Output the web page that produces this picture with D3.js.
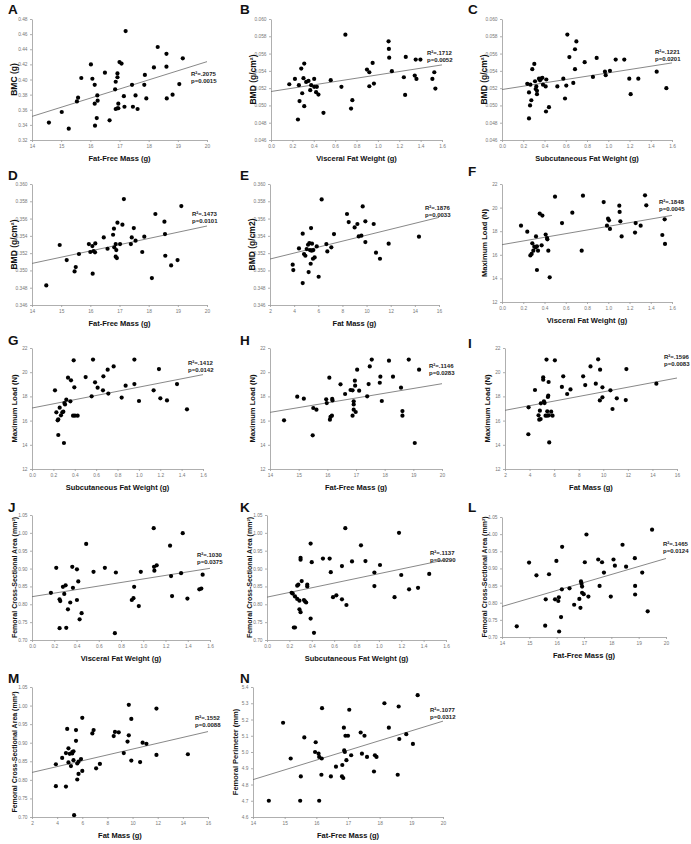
<!DOCTYPE html>
<html><head><meta charset="utf-8">
<script src="https://cdn.jsdelivr.net/npm/d3@7"></script>
<style>body{margin:0;background:#fff}svg{display:block}</style>
</head><body>
<svg id="c" width="691" height="844"></svg>
<script>
// ---------- tick values ----------
const ticksFFM=[14,15,16,17,18,19,20];
const ticksFatW=[0,0.2,0.4,0.6,0.8,1.0,1.2,1.4,1.6];
const ticksFM=[2,4,6,8,10,12,14,16];
const ticksBMC=[0.32,0.34,0.36,0.38,0.40,0.42,0.44,0.46,0.48];
const ticksBMDs=[0.046,0.048,0.050,0.052,0.054,0.056,0.058,0.060];
const ticksBMDf=[0.346,0.348,0.350,0.352,0.354,0.356,0.358,0.360];
const ticksLoad=[12,14,16,18,20,22];
const ticksCSA=[0.70,0.75,0.80,0.85,0.90,0.95,1.00,1.05];
const ticksPerim=[4.6,4.7,4.8,4.9,5.0,5.1,5.2,5.3,5.4];

// ---------- data: [x, y] ----------
const ptsA=[[14.58,0.343],[15.02,0.357],[15.26,0.335],[15.54,0.371],[15.58,0.376],[15.69,0.402],[16.02,0.420],[16.07,0.401],[16.15,0.393],[16.15,0.368],[16.16,0.339],[16.22,0.349],[16.24,0.379],[16.25,0.372],[16.50,0.409],[16.66,0.346],[16.85,0.387],[16.87,0.397],[16.93,0.408],[16.93,0.403],[16.87,0.361],[16.93,0.362],[16.96,0.362],[16.96,0.368],[17.00,0.423],[17.07,0.421],[17.15,0.378],[17.17,0.364],[17.21,0.464],[17.43,0.393],[17.46,0.364],[17.55,0.379],[17.62,0.361],[17.85,0.393],[17.87,0.406],[17.92,0.375],[18.18,0.416],[18.31,0.443],[18.61,0.434],[18.61,0.417],[18.62,0.375],[18.82,0.380],[19.05,0.394],[19.17,0.428]];
const ptsB=[[0.171,0.05245],[0.224,0.05307],[0.261,0.05234],[0.267,0.0505],[0.252,0.04837],[0.283,0.05426],[0.292,0.05141],[0.304,0.05315],[0.311,0.05484],[0.311,0.04991],[0.329,0.05272],[0.351,0.05284],[0.367,0.05176],[0.376,0.05234],[0.404,0.05307],[0.404,0.05215],[0.422,0.05153],[0.429,0.05215],[0.444,0.05126],[0.491,0.04914],[0.559,0.05292],[0.659,0.05215],[0.696,0.05819],[0.749,0.04964],[0.761,0.05061],[0.898,0.05415],[0.920,0.05384],[0.920,0.05222],[0.951,0.05492],[0.963,0.05253],[1.100,0.05742],[1.103,0.05654],[1.106,0.05553],[1.131,0.05396],[1.243,0.05326],[1.255,0.05122],[1.261,0.05561],[1.345,0.05345],[1.361,0.05307],[1.354,0.0553],[1.398,0.0553],[1.510,0.05307],[1.528,0.05384],[1.538,0.05195]];
const ptsC=[[0.238,0.0525],[0.254,0.0515],[0.267,0.0524],[0.264,0.0500],[0.254,0.0485],[0.276,0.0506],[0.285,0.0542],[0.304,0.0548],[0.311,0.0528],[0.317,0.0519],[0.323,0.0522],[0.329,0.0517],[0.329,0.0513],[0.348,0.0531],[0.358,0.0529],[0.367,0.0531],[0.380,0.0532],[0.386,0.0524],[0.411,0.0522],[0.417,0.0530],[0.414,0.0493],[0.442,0.0498],[0.521,0.0522],[0.577,0.0531],[0.593,0.0508],[0.605,0.0523],[0.615,0.0582],[0.634,0.0556],[0.671,0.0526],[0.687,0.0565],[0.687,0.0542],[0.700,0.0574],[0.778,0.0550],[0.856,0.0533],[0.891,0.0555],[0.969,0.0539],[0.976,0.0535],[1.016,0.0540],[1.070,0.0553],[1.151,0.0553],[1.198,0.0531],[1.211,0.0513],[1.283,0.0531],[1.456,0.0539],[1.547,0.0520]];
const ptsD=[[14.49,0.34827],[14.95,0.35294],[15.19,0.3512],[15.46,0.34989],[15.50,0.35039],[15.61,0.3519],[15.95,0.35305],[16.0,0.35213],[16.07,0.35282],[16.08,0.34962],[16.11,0.35224],[16.17,0.35313],[16.16,0.35209],[16.46,0.35382],[16.59,0.35251],[16.78,0.35413],[16.81,0.35483],[16.82,0.35267],[16.87,0.35305],[16.87,0.35159],[16.91,0.35143],[16.89,0.35236],[16.93,0.35552],[17.02,0.35305],[17.10,0.35529],[17.15,0.35826],[17.39,0.35305],[17.42,0.35382],[17.49,0.3549],[17.55,0.35344],[17.78,0.35213],[17.85,0.3539],[18.11,0.34911],[18.23,0.35653],[18.54,0.35564],[18.56,0.35421],[18.57,0.3517],[18.77,0.35058],[18.99,0.3512],[19.12,0.35745]];
const ptsE=[[3.88,0.35066],[3.93,0.35004],[4.40,0.35255],[4.71,0.35425],[4.71,0.34854],[4.82,0.35189],[4.93,0.3517],[5.04,0.35247],[5.15,0.35297],[5.20,0.34981],[5.26,0.35317],[5.31,0.35236],[5.37,0.35077],[5.40,0.3549],[5.45,0.35228],[5.48,0.35309],[5.56,0.35135],[5.59,0.35236],[5.70,0.35151],[5.87,0.35278],[6.03,0.34927],[6.28,0.35822],[6.67,0.35305],[6.75,0.3522],[7.08,0.35267],[7.30,0.35421],[8.38,0.35653],[8.52,0.3556],[9.01,0.35498],[9.24,0.35537],[9.35,0.35394],[9.57,0.35402],[9.68,0.35741],[9.90,0.35328],[9.90,0.35568],[10.59,0.35537],[10.78,0.35205],[11.11,0.35135],[11.83,0.35309],[14.34,0.3539]];
const ptsF=[[0.179,18.47],[0.238,17.96],[0.267,15.95],[0.279,16.07],[0.285,16.97],[0.295,16.35],[0.304,16.69],[0.317,16.63],[0.320,17.56],[0.329,16.72],[0.329,14.71],[0.339,16.35],[0.355,19.49],[0.380,19.32],[0.373,16.80],[0.411,17.71],[0.424,17.42],[0.427,17.31],[0.436,16.35],[0.449,14.09],[0.499,20.93],[0.565,18.69],[0.662,19.57],[0.750,16.35],[0.762,21.01],[0.957,20.47],[0.998,19.06],[1.007,18.92],[0.988,18.47],[1.016,18.19],[1.104,20.16],[1.107,19.63],[1.114,18.84],[1.126,17.56],[1.252,17.88],[1.258,18.69],[1.305,18.47],[1.346,21.04],[1.358,20.19],[1.509,17.68],[1.531,19.01],[1.534,16.92]];
const ptsG=[[0.215,18.50],[0.228,16.68],[0.240,16.02],[0.246,16.10],[0.246,14.81],[0.259,17.07],[0.271,16.44],[0.284,16.68],[0.293,16.74],[0.299,14.15],[0.303,17.45],[0.309,17.34],[0.321,17.73],[0.337,19.55],[0.359,17.59],[0.365,19.33],[0.384,16.41],[0.390,20.98],[0.396,18.75],[0.402,16.41],[0.427,16.41],[0.502,19.60],[0.558,18.01],[0.571,21.04],[0.590,19.16],[0.614,18.72],[0.664,18.50],[0.668,19.66],[0.708,20.21],[0.714,18.23],[0.764,20.48],[0.839,17.90],[0.876,18.89],[0.958,21.04],[0.958,19.02],[1.001,17.62],[1.138,18.50],[1.188,20.26],[1.201,17.84],[1.263,17.67],[1.357,19.02],[1.450,16.93]];
const ptsH=[[14.49,16.02],[14.95,17.98],[15.18,17.81],[15.49,14.78],[15.51,17.04],[15.62,16.90],[15.96,17.76],[15.98,17.45],[16.07,19.55],[16.09,16.08],[16.11,16.30],[16.16,16.41],[16.17,17.79],[16.18,17.67],[16.46,19.00],[16.62,18.20],[16.81,18.53],[16.88,16.41],[16.88,18.50],[16.92,16.90],[16.92,17.59],[16.92,17.34],[16.96,19.30],[16.97,18.89],[16.99,16.71],[17.04,20.21],[17.11,18.47],[17.39,18.01],[17.44,19.02],[17.48,20.48],[17.55,21.04],[17.83,19.13],[17.85,19.63],[17.90,17.62],[18.15,20.95],[18.29,19.63],[18.57,18.72],[18.62,16.79],[18.62,16.41],[18.84,21.04],[19.05,14.15],[19.20,20.21]];
const ptsI=[[3.90,14.87],[3.92,17.10],[4.44,18.53],[4.73,16.44],[4.79,16.08],[4.84,16.82],[4.90,16.13],[4.92,17.43],[5.11,19.58],[5.11,19.38],[5.17,17.59],[5.22,17.45],[5.30,16.41],[5.38,21.04],[5.44,16.77],[5.44,16.41],[5.49,17.95],[5.52,18.06],[5.55,19.19],[5.57,16.44],[5.60,14.20],[5.76,16.74],[5.87,16.41],[6.06,20.98],[6.63,18.78],[6.74,19.66],[7.06,18.20],[7.33,18.58],[8.36,19.66],[8.53,18.94],[8.96,20.48],[9.39,19.05],[9.58,21.06],[9.72,17.67],[9.74,20.21],[9.93,18.75],[9.93,17.92],[10.58,18.50],[10.75,16.96],[11.10,17.84],[11.83,17.70],[11.88,20.26],[14.32,19.05]];
const ptsJ=[[0.170,0.832],[0.218,0.902],[0.248,0.814],[0.254,0.809],[0.248,0.733],[0.278,0.849],[0.290,0.829],[0.302,0.853],[0.308,0.734],[0.323,0.786],[0.344,0.805],[0.362,0.905],[0.368,0.846],[0.404,0.898],[0.404,0.812],[0.416,0.864],[0.428,0.758],[0.446,0.775],[0.487,0.969],[0.553,0.891],[0.655,0.902],[0.745,0.719],[0.754,0.889],[0.897,0.812],[0.912,0.817],[0.918,0.849],[0.960,0.795],[0.978,0.891],[1.094,1.013],[1.097,0.905],[1.100,0.894],[1.121,0.909],[1.241,0.964],[1.250,0.879],[1.259,0.823],[1.340,0.887],[1.355,0.999],[1.397,0.816],[1.504,0.842],[1.522,0.844],[1.534,0.883]];
const ptsK=[[0.22,0.832],[0.23,0.830],[0.25,0.822],[0.24,0.735],[0.25,0.735],[0.27,0.815],[0.27,0.852],[0.28,0.855],[0.29,0.810],[0.29,0.786],[0.30,0.930],[0.30,0.925],[0.30,0.778],[0.31,0.865],[0.33,0.812],[0.34,0.808],[0.35,0.805],[0.36,0.855],[0.36,0.850],[0.39,0.970],[0.40,0.918],[0.39,0.760],[0.42,0.720],[0.50,0.928],[0.56,0.928],[0.57,0.890],[0.59,0.820],[0.62,0.825],[0.67,0.814],[0.67,0.907],[0.70,1.013],[0.71,0.798],[0.76,0.920],[0.84,0.965],[0.88,0.921],[0.96,0.889],[0.96,0.851],[1.01,0.910],[1.14,0.820],[1.18,1.000],[1.20,0.882],[1.27,0.842],[1.35,0.846],[1.45,0.885]];
const ptsL=[[14.54,0.731],[14.99,0.917],[15.26,0.880],[15.58,0.733],[15.60,0.810],[15.72,0.883],[15.94,0.810],[15.99,0.922],[16.06,0.805],[16.08,0.816],[16.09,0.716],[16.16,0.758],[16.19,0.839],[16.20,0.963],[16.47,0.842],[16.64,0.794],[16.83,0.811],[16.87,0.785],[16.89,0.862],[16.91,0.855],[16.93,0.847],[16.93,0.829],[16.99,0.825],[17.03,0.918],[17.09,0.999],[17.16,0.818],[17.52,0.926],[17.57,0.849],[17.66,0.918],[17.73,0.888],[17.98,0.818],[18.08,0.926],[18.13,0.908],[18.41,0.969],[18.54,0.905],[18.86,0.930],[18.87,0.849],[18.87,0.824],[19.13,0.888],[19.33,0.775],[19.49,1.013]];
const ptsM=[[3.9,0.842],[3.9,0.783],[4.4,0.859],[4.7,0.872],[4.8,0.937],[4.7,0.782],[4.9,0.847],[4.9,0.885],[5.0,0.870],[5.1,0.837],[5.2,0.871],[5.2,0.875],[5.3,0.877],[5.3,0.853],[5.35,0.705],[5.5,0.934],[5.5,0.905],[5.6,0.844],[5.7,0.849],[5.7,0.816],[5.6,0.801],[5.9,0.856],[6.0,0.824],[6.0,0.967],[6.8,0.925],[6.9,0.934],[7.1,0.831],[7.4,0.843],[8.5,0.918],[8.6,0.929],[8.9,0.928],[9.3,0.872],[9.6,0.903],[9.7,0.920],[9.7,1.002],[9.9,0.852],[9.9,0.964],[10.8,0.900],[11.1,0.897],[10.6,0.848],[11.9,0.867],[11.9,0.992],[14.4,0.869]];
const ptsN=[[14.50,4.70],[14.95,5.18],[15.19,4.96],[15.49,4.70],[15.51,4.85],[15.62,5.09],[15.96,5.00],[15.98,5.06],[16.07,4.99],[16.09,4.70],[16.09,4.97],[16.16,4.86],[16.17,4.96],[16.18,5.27],[16.46,4.85],[16.62,4.91],[16.81,4.85],[16.85,4.84],[16.82,4.92],[16.87,5.15],[16.88,5.01],[16.90,5.00],[16.92,5.10],[16.95,4.95],[17.00,5.10],[17.04,5.26],[17.10,4.98],[17.40,5.12],[17.44,4.99],[17.52,5.10],[17.60,4.97],[17.82,4.88],[17.85,4.98],[17.90,4.97],[18.15,5.30],[18.29,5.15],[18.57,4.86],[18.60,5.28],[18.62,5.08],[18.84,5.11],[19.05,5.05],[19.20,5.35]];

// regression line values at the two ends of the x axis
const fitA=[0.3512,0.4236], fitB=[0.05161,0.05469], fitC=[0.05184,0.05492], fitD=[0.35081,0.35514],
      fitE=[0.35132,0.35614], fitF=[16.86,19.34], fitG=[17.04,19.80], fitH=[16.68,19.05],
      fitI=[16.85,19.52], fitJ=[0.8213,0.9007], fitK=[0.820,0.925], fitL=[0.789,0.929],
      fitM=[0.82,0.93], fitN=[4.83,5.19];
const statR2=[".2075",".1712",".1221",".1473",".1876",".1848",".1412",".1146",".1596",".1030",".1137",".1465",".1552",".1077"];
const statP=["0.0015","0.0052","0.0201","0.0101","0.0033","0.0045","0.0142","0.0283","0.0083","0.0375","0.0290","0.0124","0.0088","0.0312"];
const letters=["A","B","C","D","E","F","G","H","I","J","K","L","M","N"];
const yTitles=["BMC (g)","BMD (g/cm²)","BMD (g/cm²)","BMD (g/cm²)","BMD (g/cm2)","Maximum Load (N)","Maximum Load (N)","Maximum Load (N)","Maximum Load (N)","Femoral Cross-Sectional Area (mm²)","Femoral Cross-Sectional Area (mm²)","Femoral Cross-Sectional Area (mm²)","Femoral Cross-Sectional Area (mm²)","Femoral Perimeter (mm)"];
const xTitles=["Fat-Free Mass (g)","Visceral Fat Weight (g)","Subcutaneous Fat Weight (g)","Fat-Free Mass (g)","Fat Mass (g)","Visceral Fat Weight (g)","Subcutaneous Fat Weight (g)","Fat-Free Mass (g)","Fat Mass (g)","Visceral Fat Weight (g)","Subcutaneous Fat Weight (g)","Fat-Free Mass (g)","Fat Mass (g)","Fat-Free Mass (g)"];

// ---------- layout (pixels) ----------
// box: [left, right, top, bottom]; letter: [x, baseline]; stat: [x, baseline]
const layout=[
 {box:[32,207,19,140], letter:[8,14], stat:[191,75.5], ytf:8.5},
 {box:[271,442,19,140], letter:[240,14], stat:[427,55], ytf:8.5},
 {box:[502,672,19,140], letter:[468,14], stat:[655,53.5], ytf:8.5},
 {box:[32,207,184,305], letter:[8,180], stat:[192,215.5], ytf:8.5},
 {box:[270,439,184,305], letter:[240,180], stat:[425,210], ytf:8.5},
 {box:[502,672,184,302], letter:[468,176], stat:[659,204], ytf:7.6},
 {box:[32,203,348,469], letter:[8,345], stat:[188,365], ytf:7.6},
 {box:[270,442,348,469], letter:[240,345], stat:[429,368], ytf:7.6},
 {box:[505,677,348,469], letter:[468,348], stat:[664,358.5], ytf:7.6},
 {box:[32,210,515,640], letter:[8,512], stat:[197,556.5], ytf:7},
 {box:[267,446,515,640], letter:[240,512], stat:[430,555], ytf:7},
 {box:[502,666,517,637], letter:[468,512], stat:[663,545.5], ytf:7},
 {box:[32,208,687,817], letter:[8,683], stat:[195,720], ytf:7},
 {box:[253,443,687,817], letter:[240,683], stat:[430,712], ytf:7.5}
];
const pts=[ptsA,ptsB,ptsC,ptsD,ptsE,ptsF,ptsG,ptsH,ptsI,ptsJ,ptsK,ptsL,ptsM,ptsN];
const fits=[fitA,fitB,fitC,fitD,fitE,fitF,fitG,fitH,fitI,fitJ,fitK,fitL,fitM,fitN];
const xT=[ticksFFM,ticksFatW,ticksFatW,ticksFFM,ticksFM,ticksFatW,ticksFatW,ticksFFM,ticksFM,ticksFatW,ticksFatW,ticksFFM,ticksFM,ticksFFM];
const yT=[ticksBMC,ticksBMDs,ticksBMDs,ticksBMDf,ticksBMDf,ticksLoad,ticksLoad,ticksLoad,ticksLoad,ticksCSA,ticksCSA,ticksCSA,ticksCSA,ticksPerim];
const fmtFor=t=>{
  if(t===ticksFFM||t===ticksFM||t===ticksLoad) return d3.format("d");
  if(t===ticksFatW||t===ticksPerim) return d3.format(".1f");
  if(t===ticksBMDs||t===ticksBMDf) return d3.format(".3f");
  return d3.format(".2f");
};

const svg=d3.select("#c");
const FONT="'Liberation Sans', Arial, sans-serif";
const AX="#9a9a9a";

letters.forEach((L,i)=>{
  const lay=layout[i], b=lay.box;
  const xs=xT[i], ys=yT[i];
  const x=d3.scaleLinear().domain([xs[0],xs[xs.length-1]]).range([b[0],b[1]]);
  const y=d3.scaleLinear().domain([ys[0],ys[ys.length-1]]).range([b[3],b[2]]);
  const g=svg.append("g");

  const gx=g.append("g").attr("transform",`translate(0,${b[3]})`)
    .call(d3.axisBottom(x).tickValues(xs).tickFormat(fmtFor(xs)).tickSize(2).tickSizeOuter(0).tickPadding(2.5));
  const gy=g.append("g").attr("transform",`translate(${b[0]},0)`)
    .call(d3.axisLeft(y).tickValues(ys).tickFormat(fmtFor(ys)).tickSize(2).tickSizeOuter(0).tickPadding(2.5));
  [gx,gy].forEach(a=>{
    a.select(".domain").attr("stroke",AX).attr("stroke-width",0.8);
    a.selectAll(".tick line").attr("stroke",AX).attr("stroke-width",0.8);
    a.selectAll(".tick text").attr("fill","#777").attr("font-family",FONT).attr("font-size",4.8);
  });

  // regression line
  const f=fits[i];
  g.append("line")
    .attr("x1",x(xs[0])).attr("y1",y(f[0]))
    .attr("x2",x(xs[xs.length-1])).attr("y2",y(f[1]))
    .attr("stroke","#6a6a6a").attr("stroke-width",0.8);

  // points
  g.append("g").selectAll("circle").data(pts[i]).join("circle")
    .attr("cx",d=>x(d[0])).attr("cy",d=>y(d[1])).attr("r",2.1).attr("fill","#000");

  // stats text
  const st=g.append("text").attr("font-family",FONT).attr("font-weight","bold")
    .attr("font-size",6).attr("fill","#222");
  st.append("tspan").attr("x",lay.stat[0]).attr("y",lay.stat[1]).text("R²=" + statR2[i]);
  st.append("tspan").attr("x",lay.stat[0]).attr("y",lay.stat[1]+7.2).text("p=" + statP[i]);

  // axis titles
  g.append("text").attr("x",(b[0]+b[1])/2).attr("y",b[3]+21).attr("text-anchor","middle")
    .attr("font-family",FONT).attr("font-weight","bold").attr("font-size",7.5).attr("fill","#111")
    .text(xTitles[i]);
  g.append("text").attr("transform",`translate(${b[0]-15},${(b[2]+b[3])/2}) rotate(-90)`)
    .attr("text-anchor","middle").attr("font-family",FONT).attr("font-weight","bold")
    .attr("font-size",lay.ytf).attr("fill","#111").text(yTitles[i]);

  // panel letter
  g.append("text").attr("x",lay.letter[0]).attr("y",lay.letter[1])
    .attr("font-family",FONT).attr("font-weight","bold").attr("font-size",13.5).attr("fill","#111").text(L);
});
</script>
</body></html>
